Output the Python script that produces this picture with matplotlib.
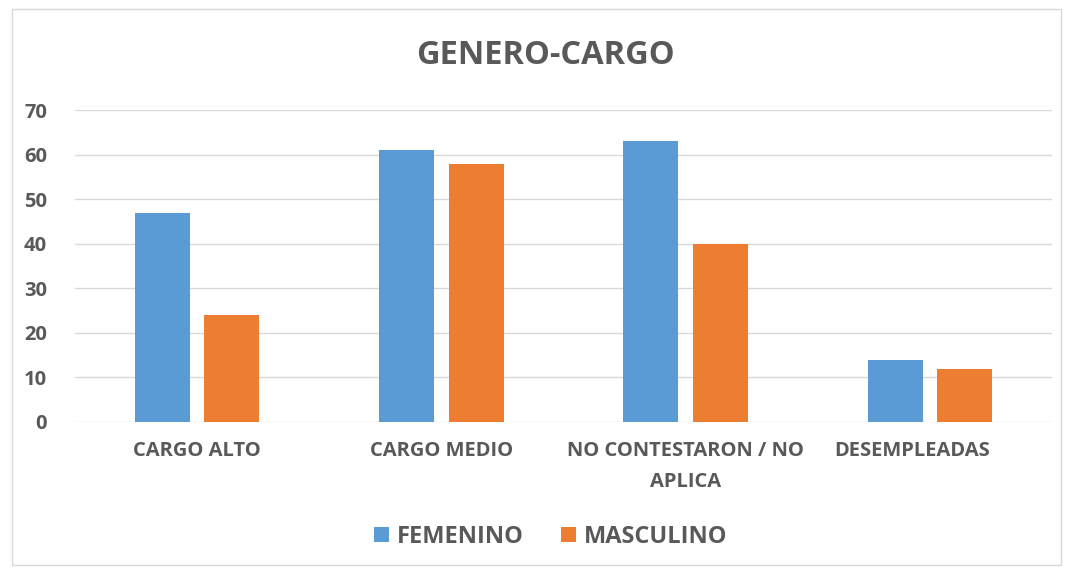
import numpy as np
import matplotlib
import matplotlib.pyplot as plt
import matplotlib.transforms as mtransforms
from matplotlib.patches import Rectangle

matplotlib.use("Agg")

categories = ["CARGO ALTO", "CARGO MEDIO", "NO CONTESTARON / NO\nAPLICA", "DESEMPLEADAS"]
femenino = [47, 61, 63, 14]
masculino = [24, 58, 40, 12]
yticks = [0, 10, 20, 30, 40, 50, 60, 70]

BLUE = "#5b9bd5"
ORANGE = "#ed7d31"
TEXT = "#595959"

plt.rcParams["font.family"] = ["Open Sans", "DejaVu Sans"]

fig = plt.figure(figsize=(10.67, 5.71), dpi=100)
ax = fig.add_axes([0.0703, 0.261, 0.9157, 0.546])

x = np.arange(len(categories))
w = 0.225
off = 0.1425
ax.bar(x - off, femenino, w, color=BLUE, label="FEMENINO", zorder=3)
ax.bar(x + off, masculino, w, color=ORANGE, label="MASCULINO", zorder=3)

ax.set_xlim(-0.5, len(categories) - 0.5)
ax.set_ylim(0, 70)
ax.set_yticks(yticks)
ax.set_xticks(x)
ax.set_xticklabels(categories, fontsize=14.5, fontweight="bold", color=TEXT,
                   linespacing=1.7)
ax.tick_params(axis="y", labelsize=14.5, colors=TEXT, length=0, pad=20)
ax.tick_params(axis="x", length=0, pad=14)
for lbl in ax.get_yticklabels():
    lbl.set_fontweight("bold")
# last label sits a bit left of its bars, as in the original
last = ax.get_xticklabels()[-1]
last.set_transform(last.get_transform() +
                   mtransforms.ScaledTranslation(-0.18, 0, fig.dpi_scale_trans))
ax.grid(axis="y", color="#d9d9d9", linewidth=1, zorder=0)
for s in ax.spines.values():
    s.set_visible(False)

fig.text(0.511, 0.903, "GENERO-CARGO", ha="center", va="center",
         fontsize=23.5, fontweight="bold", color=TEXT)

leg = fig.legend(loc="center", bbox_to_anchor=(0.516, 0.06), ncol=2, frameon=False,
                 prop={"size": 17, "weight": "bold"}, handlelength=0.65,
                 handleheight=0.65, handletextpad=0.3, columnspacing=1.6)
for t in leg.get_texts():
    t.set_color(TEXT)

fig.patches.append(Rectangle((0.011, 0.01), 0.983, 0.975, transform=fig.transFigure,
                             fill=False, edgecolor="#d9d9d9", linewidth=1))

plt.savefig("out.png", dpi=100)
plt.close()
